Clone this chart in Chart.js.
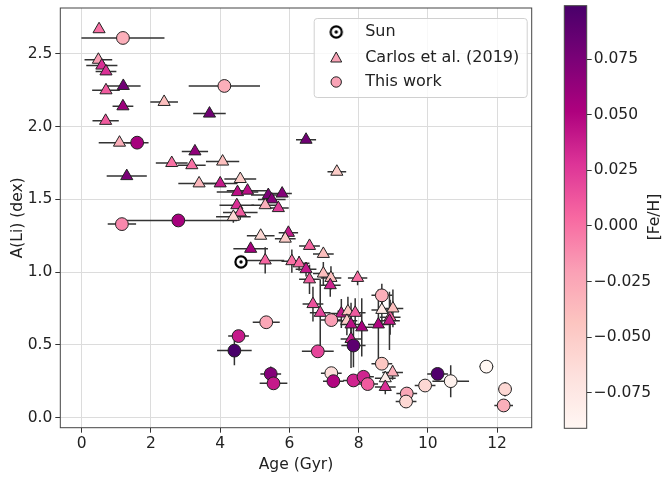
<!DOCTYPE html>
<html>
<head>
<meta charset="utf-8">
<script src="https://cdn.jsdelivr.net/npm/chart.js@4/dist/chart.umd.min.js"></script>
<style>
  html, body { margin: 0; padding: 0; background: #fff; }
  #wrap { position: relative; width: 671px; height: 477px; }
  #main { position: absolute; left: 0; top: 0; }
  #cbar { position: absolute; left: 560px; top: 0; }
</style>
</head>
<body>
<div id="wrap">
  <canvas id="main" width="560" height="477"></canvas>
  <canvas id="cbar" width="111" height="477"></canvas>
</div>
<script>
// Carlos et al. (2019) stars
const carlosAge    = [0.50, 0.48, 0.58, 0.70, 1.20, 0.70, 2.38, 1.19, 3.69, 0.69, 1.09, 3.27, 2.60, 3.18, 4.07, 1.30,
                      3.39, 4.00, 4.58, 4.50, 4.79, 5.39, 5.49, 5.79, 5.30, 5.68, 4.48, 4.58, 4.38, 5.17, 5.97, 5.88,
                      4.88, 6.58, 6.98, 5.30, 6.07, 6.28, 6.48, 6.98, 7.20, 6.58, 7.18, 7.97, 6.68, 6.89, 7.50, 7.69,
                      7.90, 7.66, 7.78, 8.09, 8.57, 8.67, 8.91, 8.99, 8.89, 7.78, 8.98, 8.77, 8.77, 7.37, 6.48];
const carlosAgeErr = [0.10, 0.40, 0.45, 0.30, 0.50, 0.40, 0.40, 0.30, 0.47, 0.38, 0.60, 0.38, 0.46, 0.40, 0.48, 0.58,
                      0.60, 0.50, 0.46, 0.60, 0.60, 0.50, 0.40, 0.28, 0.40, 0.30, 0.50, 0.50, 0.50, 0.40, 0.28, 0.30,
                      0.50, 0.30, 0.30, 0.55, 0.30, 0.30, 0.30, 0.30, 0.30, 0.30, 0.30, 0.28, 0.30, 0.30, 0.30, 0.30,
                      0.30, 0.30, 0.30, 0.30, 0.30, 0.30, 0.30, 0.30, 0.30, 0.30, 0.30, 0.30, 0.30, 0.27, 0.29];
const carlosLi     = [2.67, 2.46, 2.42, 2.38, 2.28, 2.25, 2.17, 2.14, 2.09, 2.04, 1.89, 1.83, 1.75, 1.735, 1.76, 1.66,
                      1.61, 1.61, 1.64, 1.55, 1.56, 1.53, 1.50, 1.54, 1.46, 1.44, 1.46, 1.41, 1.38, 1.25, 1.27, 1.23,
                      1.16, 1.18, 1.125, 1.08, 1.075, 1.06, 1.02, 0.99, 0.96, 0.95, 0.91, 0.96, 0.78, 0.72, 0.715, 0.73,
                      0.72, 0.665, 0.64, 0.62, 0.64, 0.74, 0.69, 0.75, 0.665, 0.54, 0.31, 0.27, 0.21, 1.69, 1.91];
const carlosLiErr  = [0.02, 0.02, 0.02, 0.02, 0.02, 0.02, 0.02, 0.02, 0.02, 0.02, 0.02, 0.02, 0.02, 0.02, 0.02, 0.02,
                      0.02, 0.02, 0.02, 0.02, 0.02, 0.02, 0.02, 0.02, 0.02, 0.02, 0.02, 0.05, 0.04, 0.02, 0.02, 0.02,
                      0.02, 0.02, 0.02, 0.09, 0.08, 0.05, 0.05, 0.08, 0.08, 0.10, 0.08, 0.05, 0.12, 0.23, 0.10, 0.10,
                      0.10, 0.10, 0.15, 0.20, 0.24, 0.10, 0.12, 0.13, 0.20, 0.20, 0.05, 0.05, 0.05, 0.02, 0.02];
const carlosFeH    = [0.000, -0.020, 0.030, 0.030, 0.080, 0.010, -0.040, 0.060, 0.080, 0.010, -0.030, 0.065, 0.000, 0.000, -0.040, 0.075,
                      -0.035, 0.040, -0.050, 0.045, 0.045, 0.075, 0.070, 0.070, -0.030, 0.025, 0.030, 0.010, -0.060, -0.060, 0.040, -0.050,
                      0.055, 0.005, -0.040, 0.005, 0.000, 0.005, 0.040, -0.040, -0.040, 0.010, 0.035, 0.000, 0.015, 0.020, 0.040, -0.045,
                      0.010, -0.050, 0.045, 0.055, 0.050, -0.075, 0.005, -0.040, 0.040, 0.040, -0.030, -0.080, 0.030, -0.050, 0.080];

// this work
const workAge    = [1.19, 4.12, 1.60, 1.16, 2.79, 8.67, 7.21, 7.85, 6.82, 8.67, 7.21, 7.27, 7.85, 8.14,
                    8.26, 9.39, 9.37, 9.92, 10.28, 10.66, 11.69, 12.23, 12.19, 5.33, 4.53, 4.41, 5.46, 5.54];
const workAgeErr = [1.20, 1.03, 0.33, 0.41, 1.70, 0.30, 0.30, 0.35, 0.46, 0.30, 0.30, 0.30, 0.30, 0.30,
                    0.30, 0.30, 0.30, 0.30, 0.30, 0.53, 0.20, 0.20, 0.27, 0.39, 0.30, 0.50, 0.30, 0.40];
const workLi     = [2.61, 2.28, 1.89, 1.33, 1.355, 0.84, 0.67, 0.495, 0.455, 0.37, 0.305, 0.25, 0.255, 0.28,
                    0.23, 0.165, 0.11, 0.22, 0.30, 0.25, 0.35, 0.195, 0.083, 0.655, 0.56, 0.46, 0.30, 0.235];
const workLiErr  = [0.02, 0.02, 0.02, 0.02, 0.02, 0.08, 0.03, 0.15, 0.04, 0.04, 0.04, 0.04, 0.04, 0.04,
                    0.04, 0.04, 0.04, 0.04, 0.04, 0.11, 0.04, 0.05, 0.02, 0.04, 0.03, 0.10, 0.05, 0.03];
const workFeH    = [-0.030, -0.030, 0.055, -0.010, 0.055, -0.030, -0.020, 0.090, 0.020, -0.045, -0.065, 0.050, 0.035, 0.035,
                    0.010, -0.025, -0.060, -0.060, 0.095, -0.085, -0.091, -0.060, -0.030, -0.025, 0.040, 0.099, 0.070, 0.040];

const sunAge = [4.6];
const sunLi = [1.07];

const ageTicks = [0, 2, 4, 6, 8, 10, 12];
const liTicks = [0, 0.5, 1, 1.5, 2, 2.5];
const fehTicks = [-0.075, -0.05, -0.025, 0, 0.025, 0.05, 0.075];

// RdPu colour map
const rdpu = ['#fff7f3', '#fde0dd', '#fcc5c0', '#fa9fb5', '#f768a1', '#dd3497', '#ae017e', '#7a0177', '#49006a'];
const fehMin = Math.min(...carlosFeH, ...workFeH);
const fehMax = Math.max(...carlosFeH, ...workFeH);

function hexRgb(h) {
    return [parseInt(h.slice(1, 3), 16), parseInt(h.slice(3, 5), 16), parseInt(h.slice(5, 7), 16)];
}
function cmap(t) {
    t = Math.max(0, Math.min(1, t));
    const p = t * (rdpu.length - 1);
    const i = Math.min(Math.floor(p), rdpu.length - 2);
    const f = p - i;
    const a = hexRgb(rdpu[i]), b = hexRgb(rdpu[i + 1]);
    const c = a.map((v, k) => Math.round(v + (b[k] - v) * f));
    return 'rgb(' + c.join(',') + ')';
}
function fehColor(v) {
    return cmap((v - fehMin) / (fehMax - fehMin));
}

// Sun symbol
const sunImg = document.createElement('canvas');
sunImg.width = 16; sunImg.height = 16;
(function () {
    const c = sunImg.getContext('2d');
    c.beginPath(); c.arc(8, 8, 5.6, 0, Math.PI * 2);
    c.fillStyle = '#fff'; c.fill();
    c.lineWidth = 2.2; c.strokeStyle = '#000'; c.stroke();
    c.beginPath(); c.arc(8, 8, 1.7, 0, Math.PI * 2);
    c.fillStyle = '#000'; c.fill();
})();

const FONT = 'DejaVu Sans';
const TXT = '#222';
Chart.defaults.font.family = FONT;
Chart.defaults.font.size = 15.5;
Chart.defaults.color = TXT;

// no extra label padding around the axes
function noPad(s) {
    s.paddingTop = 0; s.paddingBottom = 0; s.paddingLeft = 0; s.paddingRight = 0;
}

// error bars under the markers
const errorBars = {
    id: 'errorBars',
    beforeDatasetsDraw(chart) {
        const {ctx, chartArea, scales: {x, y}} = chart;
        ctx.save();
        ctx.beginPath();
        ctx.rect(chartArea.left, chartArea.top, chartArea.width, chartArea.height);
        ctx.clip();
        ctx.strokeStyle = '#333';
        ctx.lineWidth = 1.5;
        chart.data.datasets.forEach(ds => {
            if (!ds.xErr) return;
            ds.data.forEach((p, i) => {
                const px = x.getPixelForValue(p.x), py = y.getPixelForValue(p.y);
                ctx.beginPath();
                ctx.moveTo(x.getPixelForValue(p.x - ds.xErr[i]), py);
                ctx.lineTo(x.getPixelForValue(p.x + ds.xErr[i]), py);
                ctx.moveTo(px, y.getPixelForValue(p.y - ds.yErr[i]));
                ctx.lineTo(px, y.getPixelForValue(p.y + ds.yErr[i]));
                ctx.stroke();
            });
        });
        ctx.restore();
    }
};

// frame around plot + legend box inside
const frameAndLegend = {
    id: 'frameAndLegend',
    afterDraw(chart) {
        const {ctx, chartArea: a} = chart;
        ctx.save();
        ctx.strokeStyle = '#444';
        ctx.lineWidth = 1;
        ctx.strokeRect(a.left, a.top, a.right - a.left, a.bottom - a.top);

        const bw = 213, bh = 79;
        const bx = a.right - 4.5 - bw, by = a.top + 10.5;
        ctx.beginPath();
        ctx.roundRect(bx, by, bw, bh, 3);
        ctx.fillStyle = 'rgba(255,255,255,0.8)';
        ctx.fill();
        ctx.strokeStyle = '#d0d0d0';
        ctx.stroke();

        const mx = bx + 22, tx = bx + 51;
        const rows = [by + 13.5, by + 39.5, by + 63.5];
        const legendColor = '#f9a3b6';
        ctx.font = '16px "' + FONT + '"';
        ctx.textBaseline = 'middle';
        ctx.fillStyle = TXT;
        chart.data.datasets.forEach((ds, i) => {
            const cy = rows[i];
            if (ds.pointStyle === 'triangle') {
                ctx.beginPath();
                ctx.moveTo(mx, cy - 6);
                ctx.lineTo(mx + 5.5, cy + 4);
                ctx.lineTo(mx - 5.5, cy + 4);
                ctx.closePath();
                ctx.fillStyle = legendColor; ctx.fill();
                ctx.strokeStyle = '#222'; ctx.stroke();
            } else if (ds.pointStyle === 'circle') {
                ctx.beginPath();
                ctx.arc(mx, cy, 5.2, 0, Math.PI * 2);
                ctx.fillStyle = legendColor; ctx.fill();
                ctx.strokeStyle = '#222'; ctx.stroke();
            } else {
                ctx.drawImage(sunImg, mx - 8, cy - 8);
            }
            ctx.fillStyle = TXT;
            ctx.fillText(ds.label, tx, cy);
        });
        ctx.restore();
    }
};

function renderMain() {
    const ctx = document.getElementById('main').getContext('2d');
    new Chart(ctx, {
        type: 'scatter',
        data: {
            datasets: [
                {
                    label: 'Sun',
                    data: sunAge.map((a, i) => ({x: a, y: sunLi[i]})),
                    pointStyle: sunImg
                },
                {
                    label: 'Carlos et al. (2019)',
                    data: carlosAge.map((a, i) => ({x: a, y: carlosLi[i]})),
                    xErr: carlosAgeErr,
                    yErr: carlosLiErr,
                    pointStyle: 'triangle',
                    pointRadius: 7,
                    backgroundColor: carlosFeH.map(fehColor),
                    borderColor: '#222',
                    borderWidth: 1,
                    order: 2
                },
                {
                    label: 'This work',
                    data: workAge.map((a, i) => ({x: a, y: workLi[i]})),
                    xErr: workAgeErr,
                    yErr: workLiErr,
                    pointStyle: 'circle',
                    pointRadius: 6.4,
                    backgroundColor: workFeH.map(fehColor),
                    borderColor: '#222',
                    borderWidth: 1,
                    order: 1
                }
            ]
        },
        options: {
            responsive: false,
            animation: false,
            events: [],
            layout: {padding: {top: 5, right: 28.3, left: 0, bottom: 0}},
            plugins: {legend: {display: false}, tooltip: {enabled: false}},
            scales: {
                x: {
                    type: 'linear',
                    min: -0.62,
                    max: 13.0,
                    afterBuildTicks: s => { s.ticks = ageTicks.map(v => ({value: v})); },
                    afterFit: s => { s.height = 49.3; noPad(s); },
                    grid: {color: '#dcdcdc', tickColor: '#333', tickLength: 5},
                    border: {display: false},
                    ticks: {padding: 2, maxRotation: 0, callback: v => String(v)},
                    title: {display: true, text: 'Age (Gyr)', padding: {top: 0, bottom: 3}}
                },
                y: {
                    type: 'linear',
                    min: -0.07,
                    max: 2.816,
                    afterBuildTicks: s => { s.ticks = liTicks.map(v => ({value: v})); },
                    afterFit: s => { s.width = 60.3; noPad(s); },
                    grid: {color: '#dcdcdc', tickColor: '#333', tickLength: 5},
                    border: {display: false},
                    ticks: {padding: 3, callback: v => v.toFixed(1)},
                    title: {display: true, text: 'A(Li) (dex)', padding: {top: 9, bottom: 0}}
                }
            }
        },
        plugins: [errorBars, frameAndLegend]
    });
}

// colour bar: gradient + its own axis
const colorBar = {
    id: 'colorBar',
    beforeDatasetsDraw(chart) {
        const {ctx, chartArea: a} = chart;
        ctx.save();
        const g = ctx.createLinearGradient(0, a.bottom, 0, a.top);
        for (let i = 0; i <= 40; i++) g.addColorStop(i / 40, cmap(i / 40));
        ctx.fillStyle = g;
        ctx.fillRect(a.left, a.top, a.right - a.left, a.bottom - a.top);
        ctx.strokeStyle = '#444';
        ctx.lineWidth = 1;
        ctx.strokeRect(a.left, a.top, a.right - a.left, a.bottom - a.top);

        ctx.translate(95, (a.top + a.bottom) / 2);
        ctx.rotate(-Math.PI / 2);
        ctx.font = '15.5px "' + FONT + '"';
        ctx.fillStyle = TXT;
        ctx.textAlign = 'center';
        ctx.textBaseline = 'middle';
        ctx.fillText('[Fe/H]', 0, 0);
        ctx.restore();
    }
};

function renderColorBar() {
    const ctx = document.getElementById('cbar').getContext('2d');
    new Chart(ctx, {
        type: 'scatter',
        data: {datasets: [{data: []}]},
        options: {
            responsive: false,
            animation: false,
            events: [],
            layout: {padding: {left: 4.3, top: 5.7, bottom: 48.7, right: 0}},
            plugins: {legend: {display: false}, tooltip: {enabled: false}},
            scales: {
                x: {display: false, min: 0, max: 1},
                y: {
                    position: 'right',
                    min: fehMin,
                    max: fehMax,
                    afterBuildTicks: s => { s.ticks = fehTicks.map(v => ({value: v})); },
                    afterFit: s => { s.width = 84.3; noPad(s); },
                    grid: {drawOnChartArea: false, tickColor: '#333', tickLength: 5},
                    border: {display: false},
                    ticks: {padding: 2, callback: v => v.toFixed(3).replace('-', '\u2212')}
                }
            }
        },
        plugins: [colorBar]
    });
}

renderMain();
renderColorBar();
</script>
</body>
</html>
